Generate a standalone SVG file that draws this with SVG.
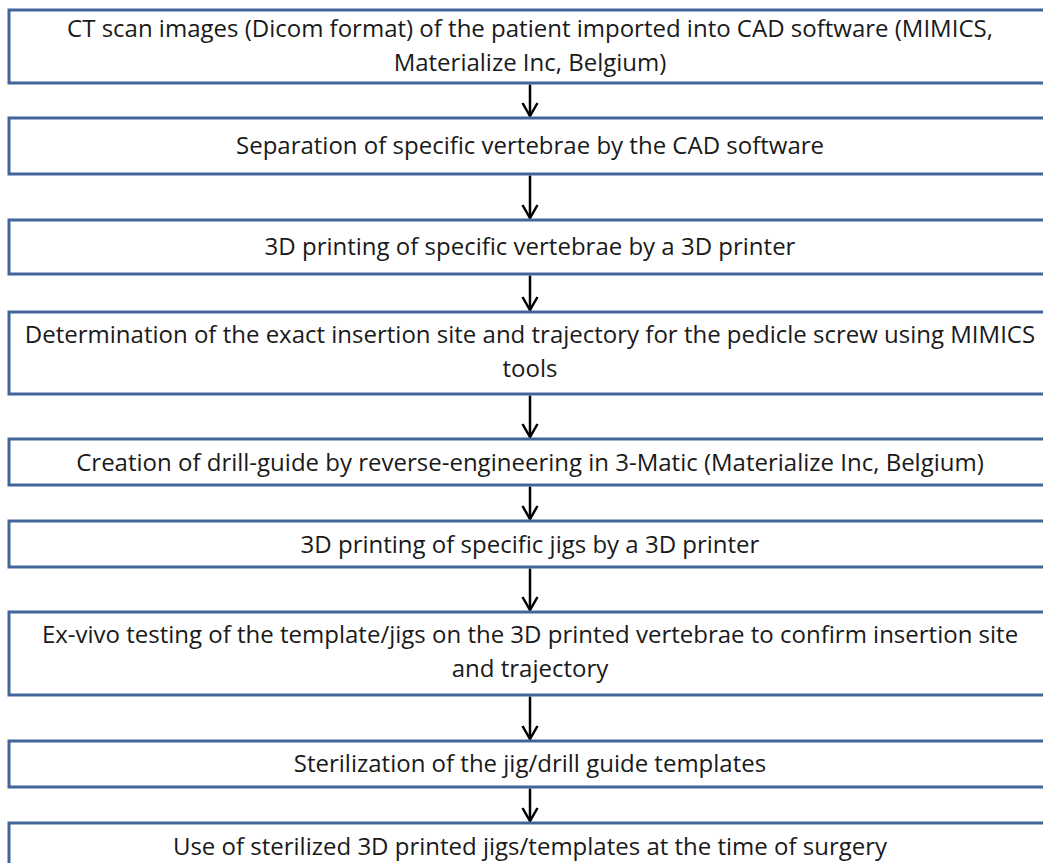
<svg xmlns="http://www.w3.org/2000/svg" width="1043" height="863" viewBox="0 0 1043 863">
<defs>
<style>
.box{fill:#ffffff;stroke:#41659a;stroke-width:3}
.t{font-family:"Open Sans","Noto Sans","Liberation Sans",sans-serif;font-size:24px;fill:#1a1a1a;text-anchor:middle}
.c{stroke:#000;stroke-width:2.5;fill:none}
</style>
<marker id="ah" markerUnits="userSpaceOnUse" markerWidth="30" markerHeight="30" viewBox="-15 -15 30 30" refX="0" refY="0" orient="auto" overflow="visible">
<path d="M-13,-7.5 L0,0 L-13,7.5" fill="none" stroke="#000" stroke-width="2.5" stroke-linejoin="miter"/>
</marker>
</defs>
<rect width="1043" height="863" fill="#ffffff"/>
<g id="connectors">
<path class="c" d="M530,84.5 L530,116" marker-end="url(#ah)"/>
<path class="c" d="M530,175.5 L530,218" marker-end="url(#ah)"/>
<path class="c" d="M530,275.5 L530,310" marker-end="url(#ah)"/>
<path class="c" d="M530,395.5 L530,437" marker-end="url(#ah)"/>
<path class="c" d="M530,486.5 L530,519" marker-end="url(#ah)"/>
<path class="c" d="M530,568.5 L530,610" marker-end="url(#ah)"/>
<path class="c" d="M530,696.5 L530,739" marker-end="url(#ah)"/>
<path class="c" d="M530,788.5 L530,821" marker-end="url(#ah)"/>
</g>
<g id="n1"><rect class="box" x="9" y="10" width="1060" height="73"/>
<text class="t" x="530" y="37">CT scan images (Dicom format) of the patient imported into CAD software (MIMICS,</text>
<text class="t" x="530" y="71">Materialize Inc, Belgium)</text></g>
<g id="n2"><rect class="box" x="9" y="118" width="1060" height="56"/>
<text class="t" x="530" y="154">Separation of specific vertebrae by the CAD software</text></g>
<g id="n3"><rect class="box" x="9" y="220" width="1060" height="54"/>
<text class="t" x="530" y="255">3D printing of specific vertebrae by a 3D printer</text></g>
<g id="n4"><rect class="box" x="9" y="312" width="1060" height="82"/>
<text class="t" x="530" y="343">Determination of the exact insertion site and trajectory for the pedicle screw using MIMICS</text>
<text class="t" x="530" y="377">tools</text></g>
<g id="n5"><rect class="box" x="9" y="439" width="1060" height="46"/>
<text class="t" x="530" y="471">Creation of drill-guide by reverse-engineering in 3-Matic (Materialize Inc, Belgium)</text></g>
<g id="n6"><rect class="box" x="9" y="521" width="1060" height="46"/>
<text class="t" x="530" y="553">3D printing of specific jigs by a 3D printer</text></g>
<g id="n7"><rect class="box" x="9" y="612" width="1060" height="83"/>
<text class="t" x="530" y="643">Ex-vivo testing of the template/jigs on the 3D printed vertebrae to confirm insertion site</text>
<text class="t" x="530" y="677">and trajectory</text></g>
<g id="n8"><rect class="box" x="9" y="741" width="1060" height="46"/>
<text class="t" x="530" y="772">Sterilization of the jig/drill guide templates</text></g>
<g id="n9"><rect class="box" x="9" y="823" width="1060" height="60"/>
<text class="t" x="530" y="855">Use of sterilized 3D printed jigs/templates at the time of surgery</text></g>
</svg>
